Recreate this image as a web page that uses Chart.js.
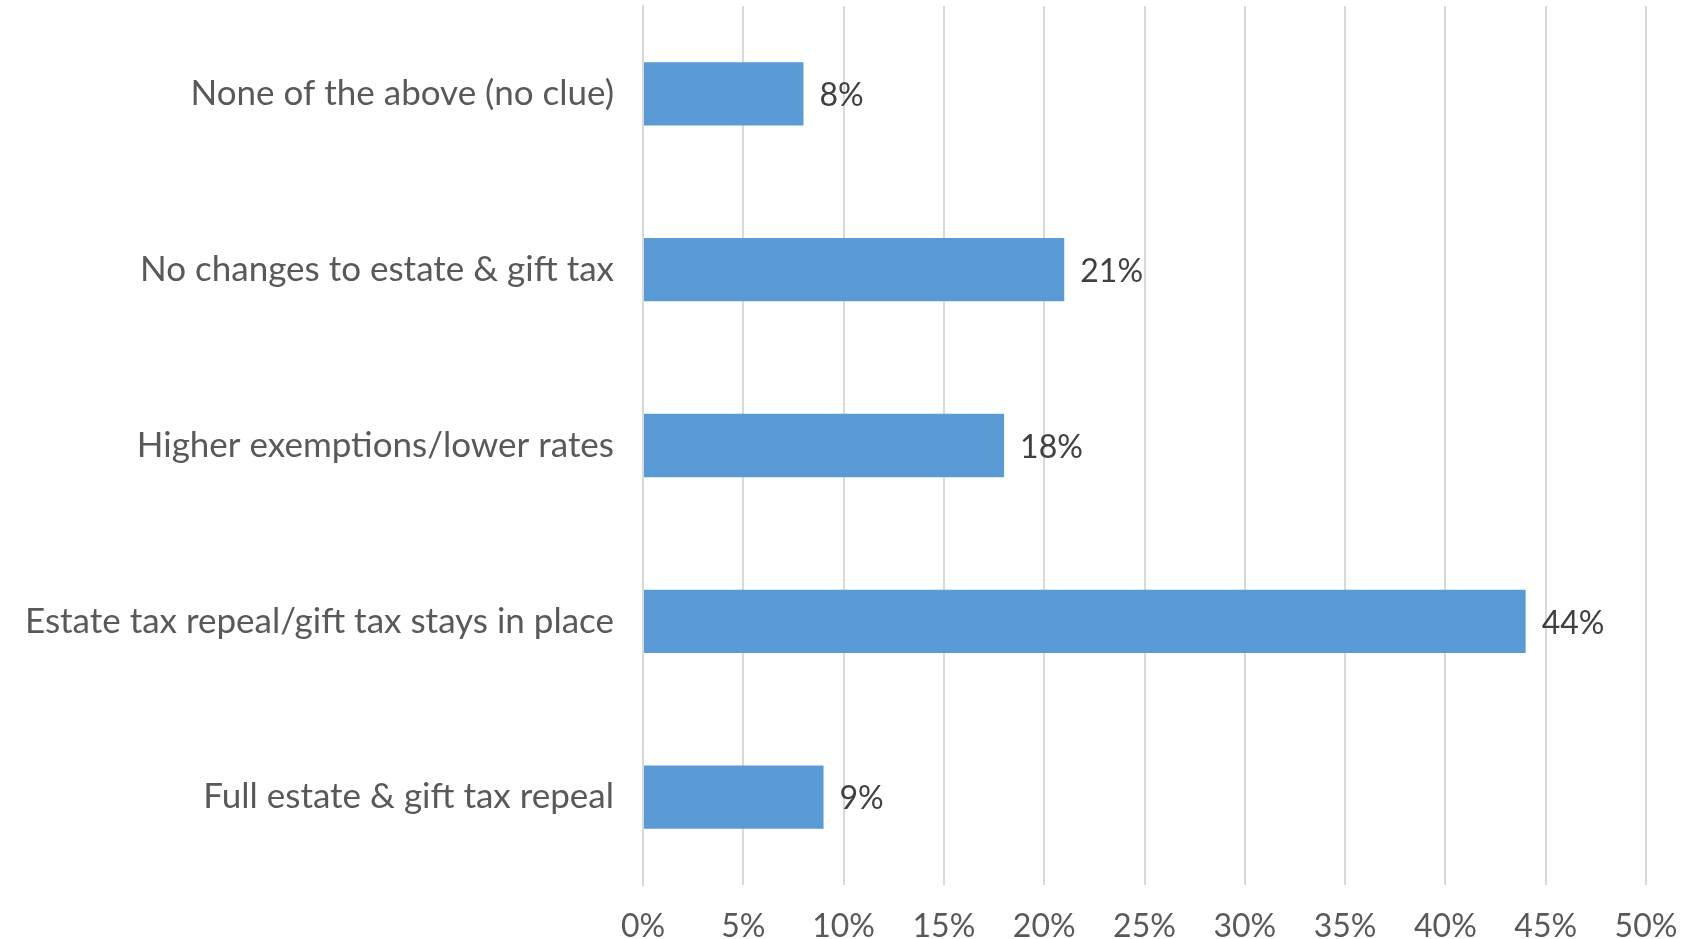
<!DOCTYPE html>
<html>
<head>
<meta charset="utf-8">
<script src="https://cdn.jsdelivr.net/npm/chart.js@4/dist/chart.umd.min.js"></script>
<style>
  html, body { margin: 0; padding: 0; background: #fff; }
  #wrap { width: 1685px; height: 939px; }
</style>
</head>
<body>
<div id="wrap"><canvas id="chart" width="1685" height="939"></canvas></div>
<script>
// survey answers, listed top to bottom
const categories = [
  'None of the above (no clue)',
  'No changes to estate & gift tax',
  'Higher exemptions/lower rates',
  'Estate tax repeal/gift tax stays in place',
  'Full estate & gift tax repeal'
];
const shares = [8, 21, 18, 44, 9];
const xTicks = [0, 5, 10, 15, 20, 25, 30, 35, 40, 45, 50];

const FONT = 'Lato, "Open Sans", sans-serif';

// writes "NN%" just past the end of every bar
const barLabels = {
  id: 'barLabels',
  afterDatasetsDraw(chart) {
    const ctx = chart.ctx;
    const meta = chart.getDatasetMeta(0);
    ctx.save();
    ctx.font = '32px ' + FONT;
    ctx.fillStyle = '#404040';
    ctx.textAlign = 'left';
    ctx.textBaseline = 'middle';
    meta.data.forEach((bar, i) => {
      ctx.fillText(shares[i] + '%', bar.x + 16, bar.y + 2);
    });
    ctx.restore();
  }
};

new Chart(document.getElementById('chart'), {
  type: 'bar',
  data: {
    labels: categories,
    datasets: [{
      data: shares,
      backgroundColor: '#5B9BD5',
      borderWidth: 0,
      barPercentage: 0.36,
      categoryPercentage: 1
    }]
  },
  options: {
    indexAxis: 'y',
    responsive: false,
    animation: false,
    layout: { padding: { top: 6, right: 39, bottom: 0, left: 0 } },
    plugins: {
      legend: { display: false },
      tooltip: { enabled: false }
    },
    scales: {
      x: {
        min: 0,
        max: 50,
        afterBuildTicks(scale) {
          scale.ticks = xTicks.map(v => ({ value: v }));
        },
        afterFit(scale) {
          scale.height = 54;
          // no extra side room for the end labels
          scale.paddingLeft = 0;
          scale.paddingRight = 0;
        },
        grid: { color: '#d9d9d9', lineWidth: 2, drawTicks: false },
        border: { display: false },
        ticks: {
          padding: 22,
          color: '#595959',
          font: { family: FONT, size: 32 },
          callback: v => v + '%'
        }
      },
      y: {
        afterFit(scale) {
          scale.width = 643;
          scale.paddingTop = 0;
          scale.paddingBottom = 0;
        },
        grid: { display: false },
        border: { color: '#d9d9d9', width: 2 },
        ticks: {
          padding: 21,
          color: '#595959',
          font: { family: FONT, size: 35 }
        }
      }
    }
  },
  plugins: [barLabels]
});
</script>
</body>
</html>
